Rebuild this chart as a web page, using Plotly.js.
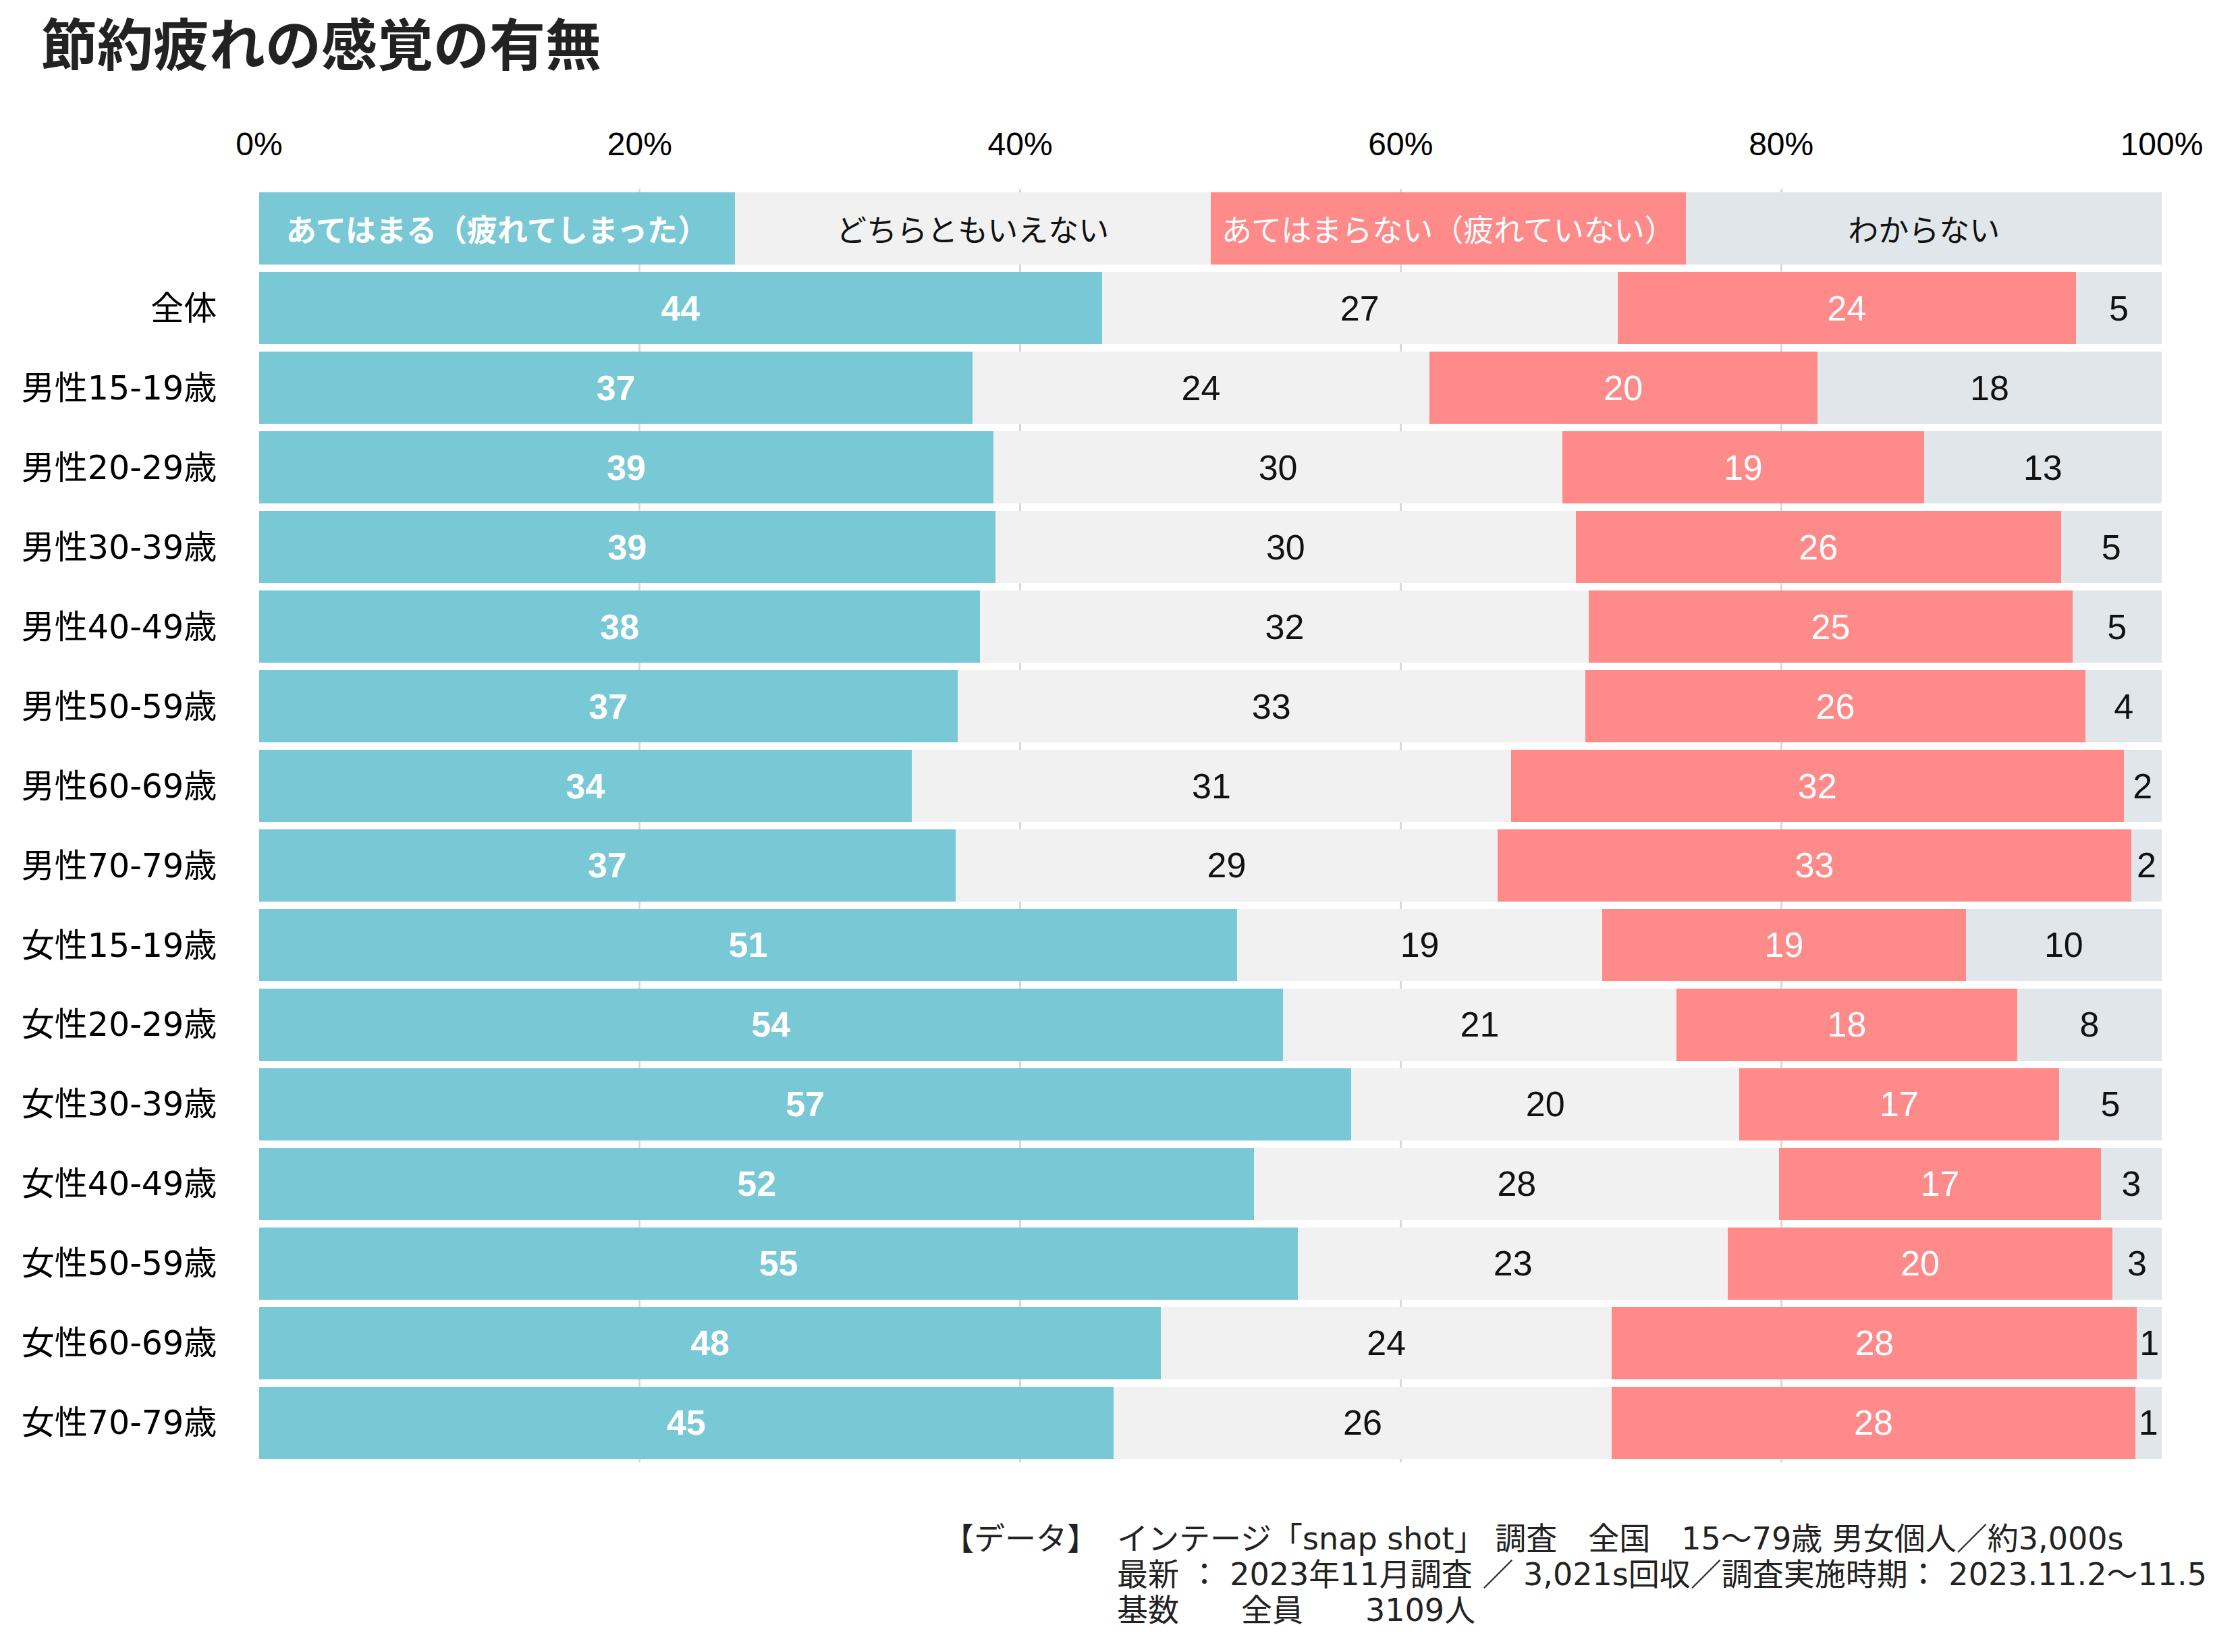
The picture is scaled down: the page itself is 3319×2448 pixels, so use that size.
<!DOCTYPE html>
<html>
<head>
<meta charset="utf-8">
<script src="https://cdn.plot.ly/plotly-3.0.1.min.js"></script>
<style>html,body{margin:0;padding:0;background:#fff;}#chart{width:3319px;height:2448px;}</style>
</head>
<body>
<div id="chart"></div>
<script>
const chartTitle = "節約疲れの感覚の有無";
const categories = ["全体","男性15-19歳","男性20-29歳","男性30-39歳","男性40-49歳","男性50-59歳","男性60-69歳","男性70-79歳","女性15-19歳","女性20-29歳","女性30-39歳","女性40-49歳","女性50-59歳","女性60-69歳","女性70-79歳"];
const seriesNames = ["あてはまる（疲れてしまった）","どちらともいえない","あてはまらない（疲れていない）","わからない"];
const atehamaru    = [44.3,37.5,38.6,38.7,37.9,36.7,34.3,36.6,51.4,53.8,57.4,52.3,54.6,47.4,44.9];
const dochiramo    = [27.1,24.0,29.9,30.5,32.0,33.0,31.5,28.5,19.2,20.7,20.4,27.6,22.6,23.7,26.2];
const atehamaranai = [24.1,20.4,19.0,25.5,25.4,26.3,32.2,33.3,19.1,17.9,16.8,16.9,20.2,27.6,27.5];
const wakaranai    = [4.5,18.1,12.5,5.3,4.7,4.0,2.0,1.6,10.3,7.6,5.4,3.2,2.6,1.3,1.4];
const labelsAtehamaru    = [44,37,39,39,38,37,34,37,51,54,57,52,55,48,45];
const labelsDochiramo    = [27,24,30,30,32,33,31,29,19,21,20,28,23,24,26];
const labelsAtehamaranai = [24,20,19,26,25,26,32,33,19,18,17,17,20,28,28];
const labelsWakaranai    = [5,18,13,5,5,4,2,2,10,8,5,3,3,1,1];
const headerShare = 25;
const tickVals = [0,20,40,60,80,100];
const tickLabels = ["0%","20%","40%","60%","80%","100%"];
const sourceHead = "【データ】";
const sourceLines = [
  "インテージ「snap shot」 調査　全国　15〜79歳 男女個人／約3,000s",
  "最新 ： 2023年11月調査 ／ 3,021s回収／調査実施時期： 2023.11.2〜11.5",
  "基数　　全員　　3109人"
];

const CJK = "Noto Sans CJK JP";
const MIX = "DejaVu Sans, Noto Sans CJK JP";
const NUM = "Liberation Sans, Arial, sans-serif";
const colors = ["#79C8D5","#F1F1F1","#FF8A8A","#E1E6EA"];
const textColors = ["#ffffff","#111111","#ffffff","#111111"];
const weights = ["bold","normal","normal","normal"];
const allValues = [atehamaru, dochiramo, atehamaranai, wakaranai];
const allLabels = [labelsAtehamaru, labelsDochiramo, labelsAtehamaranai, labelsWakaranai];

const yPos = [0].concat(categories.map((c,i)=>i+1));
const traces = seriesNames.map((name, s) => ({
  type: "bar",
  orientation: "h",
  name: name,
  y: yPos,
  x: [headerShare].concat(allValues[s]),
  text: [name].concat(allLabels[s].map(String)),
  textposition: "inside",
  insidetextanchor: "middle",
  textangle: 0,
  constraintext: "none",
  textfont: {
    family: [CJK].concat(allLabels[s].map(()=>NUM)),
    size: [45].concat(allLabels[s].map(()=>52)),
    color: textColors[s],
    weight: weights[s]
  },
  marker: {color: colors[s], line: {width: 0}},
  hoverinfo: "skip"
}));

const lineY = [2280, 2333, 2386];
const toPaperY = v => -(v - 2167) / 1887;
const annotations = [
  {xref: "paper", yref: "paper", x: (1395-384)/2819, y: toPaperY(lineY[0]),
   xanchor: "left", yanchor: "middle", showarrow: false, align: "left",
   text: sourceHead, font: {family: MIX, size: 46, color: "#222222"}}
].concat(sourceLines.map((t, i) => ({
  xref: "paper", yref: "paper", x: (1653-384)/2819, y: toPaperY(lineY[i]),
  xanchor: "left", yanchor: "middle", showarrow: false, align: "left",
  text: t, font: {family: MIX, size: 46, color: "#222222"}
})));

const layout = {
  width: 3319, height: 2448,
  barmode: "stack",
  bargap: 0.093,
  showlegend: false,
  paper_bgcolor: "#ffffff",
  plot_bgcolor: "#ffffff",
  margin: {l: 384, r: 116, t: 280, b: 281, pad: 0},
  title: {
    text: "<b>" + chartTitle + "</b>",
    font: {family: CJK, size: 83, color: "#222222"},
    x: 61/3319, xref: "container", xanchor: "left",
    y: 1 - 68/2448, yref: "container", yanchor: "middle"
  },
  xaxis: {
    side: "top",
    range: [0, 100],
    tickvals: tickVals,
    ticktext: tickLabels,
    tickfont: {family: NUM, size: 48, color: "#000000"},
    ticks: "outside", ticklen: 30, tickcolor: "rgba(0,0,0,0)",
    showgrid: true, gridcolor: "#D9D9D9", gridwidth: 3,
    zeroline: false, showline: false, fixedrange: true
  },
  yaxis: {
    range: [15.5, -0.5],
    tickvals: yPos,
    ticktext: [""].concat(categories),
    tickfont: {family: MIX, size: 49, color: "#000000"},
    ticks: "outside", ticklen: 52, tickcolor: "rgba(0,0,0,0)",
    showgrid: false, zeroline: false, showline: false, fixedrange: true
  },
  annotations: annotations
};

Plotly.newPlot("chart", traces, layout, {staticPlot: true, displayModeBar: false});
</script>
</body>
</html>
